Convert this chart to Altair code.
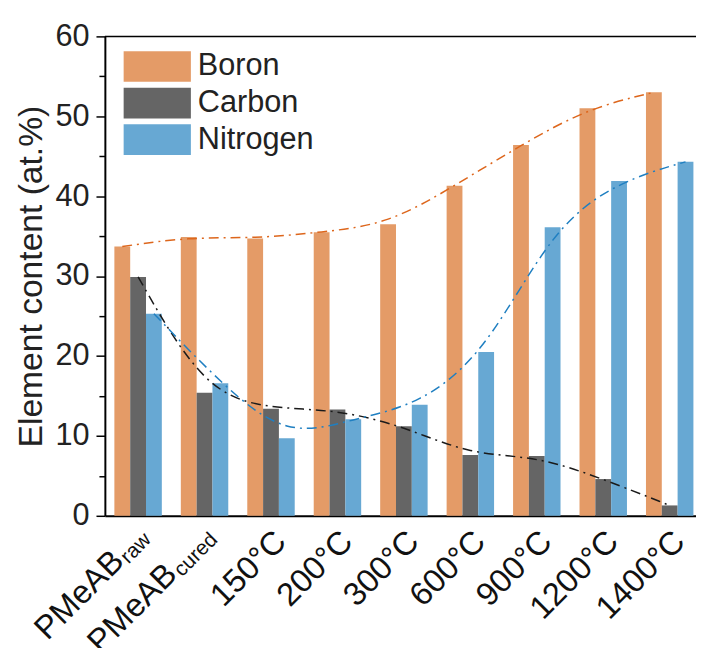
import altair as alt
import pandas as pd

categories = ["PMeAB_raw", "PMeAB_cured", "150°C", "200°C", "300°C",
              "600°C", "900°C", "1200°C", "1400°C"]
label_main = ["PMeAB", "PMeAB", "150°C", "200°C", "300°C",
              "600°C", "900°C", "1200°C", "1400°C"]
label_sub = ["raw", "cured", "", "", "", "", "", "", ""]
elements = ["Boron", "Carbon", "Nitrogen"]
boron = [33.7, 34.9, 34.7, 35.5, 36.5, 41.3, 46.4, 51.0, 53.0]
carbon = [29.9, 15.4, 13.4, 13.3, 11.2, 7.6, 7.5, 4.6, 1.3]
nitrogen = [25.3, 16.6, 9.7, 12.1, 13.9, 20.5, 36.1, 41.9, 44.3]
y_ticks = [0, 10, 20, 30, 40, 50, 60]
y_minor = [5, 15, 25, 35, 45, 55]

bar_colors = ["#E49B67", "#656565", "#67A8D3"]
line_colors = ["#DD661C", "#1A1A1A", "#1F7FC1"]
FONT = "Liberation Sans"

rows = []
for el, vals in zip(elements, [boron, carbon, nitrogen]):
    for c, v in zip(categories, vals):
        rows.append({"category": c, "element": el, "value": v})
df = pd.DataFrame(rows)
labels_df = pd.DataFrame({"category": categories, "main": label_main, "sub": label_sub})
top_df = pd.DataFrame({"v": [60]})
minor_df = pd.DataFrame({"m": y_minor})

x_enc = alt.X("category:N", sort=categories,
              scale=alt.Scale(range=[0, 605], paddingInner=0.286, paddingOuter=0.143),
              axis=alt.Axis(title=None, labels=False, ticks=False,
                            domainColor="black", domainWidth=2))
xoff = alt.XOffset("element:N", sort=elements,
                   scale=alt.Scale(paddingInner=0, paddingOuter=0))
y_enc = alt.Y("value:Q", scale=alt.Scale(domain=[0, 60], nice=False),
              axis=alt.Axis(title="Element content (at.%)", values=y_ticks, orient="left",
                            tickSize=9, tickWidth=1.5, tickColor="black",
                            domainColor="black", domainWidth=2,
                            labelFont=FONT, labelFontSize=31, labelColor="#222",
                            labelPadding=7, titleFont=FONT, titleFontSize=34,
                            titleFontWeight="normal", titleColor="#222",
                            titlePadding=7, grid=False))

bars = alt.Chart(df).mark_bar().encode(
    x=x_enc, xOffset=xoff, y=y_enc,
    color=alt.Color("element:N", sort=elements,
                    scale=alt.Scale(domain=elements, range=bar_colors),
                    legend=alt.Legend(title=None, orient="none", legendX=37.5, legendY=15,
                                      symbolType="M-2.194,-1H2.194V1H-2.194Z",
                                      symbolSize=961, symbolStrokeWidth=0,
                                      symbolOpacity=1, labelFont=FONT,
                                      labelFontSize=31, labelColor="#222",
                                      labelOffset=25.5, rowPadding=5, padding=0)),
)

lines = alt.Chart(df).mark_line(interpolate="basis", strokeDash=[10, 5, 2, 5],
                                strokeWidth=1.5).encode(
    x=x_enc, xOffset=xoff, y=alt.Y("value:Q", axis=None),
    stroke=alt.Stroke("element:N", sort=elements,
                      scale=alt.Scale(domain=elements, range=line_colors),
                      legend=None),
)

top_rule = alt.Chart(top_df).mark_rule(color="black", strokeWidth=1.5).encode(
    y=alt.Y("v:Q", axis=None))

minor_ticks = alt.Chart(minor_df).mark_point(opacity=0).encode(
    y=alt.Y("m:Q", axis=alt.Axis(orient="left", values=y_minor, labels=False,
                                 domain=False, tickSize=6, tickWidth=1.5,
                                 tickColor="black", title=None, grid=False)))

def text_layer(filter_expr, field, size, dx, dy):
    return alt.Chart(labels_df).transform_filter(filter_expr).mark_text(
        angle=315, align="right", baseline="middle", font=FONT, fontSize=size,
        color="#111", dx=dx, dy=dy).encode(
        x=alt.X("category:N", sort=categories),
        y=alt.YDatum(0, axis=None), text=f"{field}:N")

base_dx, base_dy = -7.8, 21.9
temp_labels = text_layer("datum.sub == ''", "main", 33, base_dx, base_dy)
raw_main = text_layer("datum.category == 'PMeAB_raw'", "main", 33, base_dx - 35, base_dy - 7)
raw_sub = text_layer("datum.category == 'PMeAB_raw'", "sub", 21, base_dx, base_dy)
cur_main = text_layer("datum.category == 'PMeAB_cured'", "main", 33, base_dx - 54, base_dy - 7)
cur_sub = text_layer("datum.category == 'PMeAB_cured'", "sub", 21, base_dx, base_dy)

chart = alt.layer(bars, lines, top_rule, minor_ticks, temp_labels, raw_main, raw_sub,
                  cur_main, cur_sub).resolve_axis(y="independent").properties(
    width=598, height=485,
    padding={"left": 98, "top": 25, "right": 0, "bottom": 130},
    autosize=alt.AutoSizeParams(type="none"),
).configure_view(stroke=None)

chart.save("out.html", embed_options={"renderer": "svg", "actions": False})
